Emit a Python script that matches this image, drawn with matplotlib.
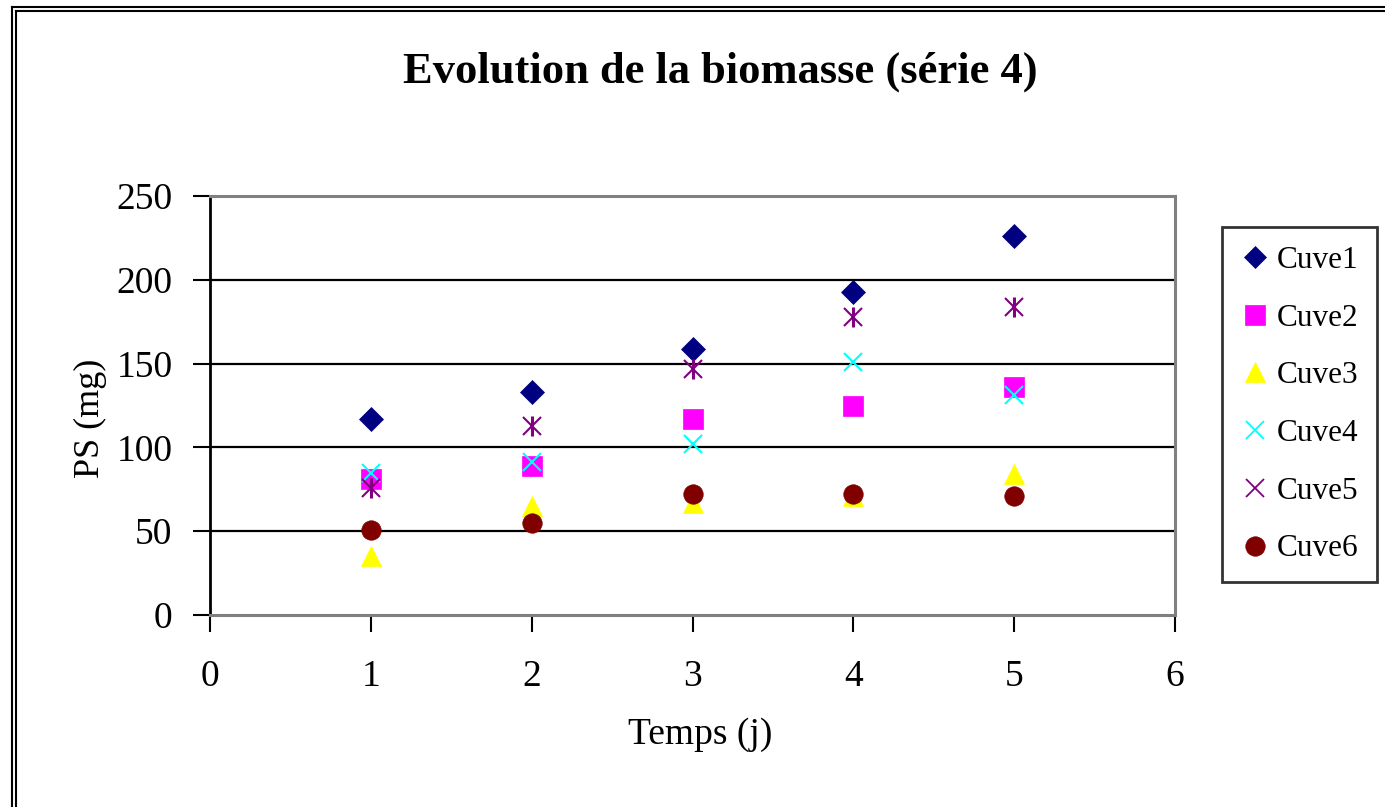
import matplotlib
matplotlib.use("Agg")
import matplotlib.pyplot as plt
from matplotlib.lines import Line2D

plt.rcParams['font.family'] = ['Liberation Serif', 'DejaVu Serif']

# jours de mesure
jours = [1, 2, 3, 4, 5]

# poids sec (mg) par cuve
cuve1 = [117, 133, 159, 193, 226]
cuve2 = [81, 89, 117, 125, 136]
cuve3 = [35, 65, 67, 71, 84]
cuve4 = [85, 91, 102, 151, 131]
cuve5 = [76, 113, 147, 178, 184]
cuve6 = [51, 55, 72, 72, 71]

noms = ["Cuve1", "Cuve2", "Cuve3", "Cuve4", "Cuve5", "Cuve6"]
series = [cuve1, cuve2, cuve3, cuve4, cuve5, cuve6]
marqueurs = ["D", "s", "^", "x", "*", "o"]
couleurs = ["#000080", "#FF00FF", "#FFFF00", "#00FFFF", "#800080", "#800000"]
tailles = [12, 15, 15, 13, 13, 14]

fig = plt.figure(figsize=(13.85, 8.07), dpi=100)
ax = fig.add_axes([210 / 1385, 1 - 615 / 807, 965 / 1385, 419 / 807])

for y in [50, 100, 150, 200]:
    ax.axhline(y, color="black", lw=1.6, zorder=1)

# ordre de trace : cuve3 sous cuve6
ordre = [2, 0, 1, 3, 4, 5]
for i in ordre:
    if marqueurs[i] == "x":
        ax.plot(jours, series[i], ls="none", marker="x", ms=tailles[i],
                mec=couleurs[i], mew=1.5, zorder=3)
    elif marqueurs[i] == "*":
        # asterisque : croix + trait vertical
        ax.plot(jours, series[i], ls="none", marker="x", ms=tailles[i],
                mec=couleurs[i], mew=1.5, zorder=3)
        ax.plot(jours, series[i], ls="none", marker="|", ms=tailles[i] + 2,
                mec=couleurs[i], mew=2.2, zorder=3)
    else:
        ax.plot(jours, series[i], ls="none", marker=marqueurs[i], ms=tailles[i],
                mfc=couleurs[i], mec=couleurs[i], mew=0.5, zorder=3)

ax.set_xlim(0, 6)
ax.set_ylim(0, 250)
ax.set_xticks(range(0, 7))
ax.set_yticks(range(0, 251, 50))
ax.tick_params(axis="both", direction="out", length=12, width=1.5,
               labelsize=27, color="black")
ax.tick_params(axis="y", pad=15)
ax.tick_params(axis="x", pad=20)

for s in ["top", "right", "bottom"]:
    ax.spines[s].set_color("#808080")
    ax.spines[s].set_linewidth(2.2)
ax.spines["left"].set_color("black")
ax.spines["left"].set_linewidth(2)

ax.set_xlabel("Temps (j)", fontsize=27)
ax.set_ylabel("PS (mg)", fontsize=26)
ax.xaxis.set_label_coords(0.508, -0.245)
ax.yaxis.set_label_coords(-0.107, 0.47)

fig.text(0.52, 1 - 72 / 807, "Evolution de la biomasse (série 4)", ha="center",
         va="center", fontsize=32, fontweight="bold")

poignees = []
for i in range(6):
    m = "x" if marqueurs[i] == "*" else marqueurs[i]
    if m == "x":
        h = Line2D([], [], ls="none", marker="x", ms=13, mec=couleurs[i], mew=1.3)
    else:
        h = Line2D([], [], ls="none", marker=m, ms=14 if m != "D" else 11,
                   mfc=couleurs[i], mec=couleurs[i], mew=0.5)
    poignees.append(h)

leg = fig.legend(poignees, noms, loc="upper left",
                 bbox_to_anchor=(1222 / 1385, 1 - 227 / 807),
                 fontsize=22.5, frameon=True, fancybox=False, edgecolor="black",
                 labelspacing=0.92, handlelength=0.9, handletextpad=0.25,
                 borderpad=0.6, borderaxespad=0)
leg.get_frame().set_linewidth(2)

# cadre double du graphique (gauche et haut)
for d in [0, 4]:
    fig.add_artist(Line2D([(12 + d) / 1385, (12 + d) / 1385], [0, 1 - (7 + d) / 807],
                          color="black", lw=1.5, transform=fig.transFigure))
    fig.add_artist(Line2D([(12 + d) / 1385, 1], [1 - (7 + d) / 807, 1 - (7 + d) / 807],
                          color="black", lw=1.5, transform=fig.transFigure))

fig.savefig("out.png", dpi=100)
